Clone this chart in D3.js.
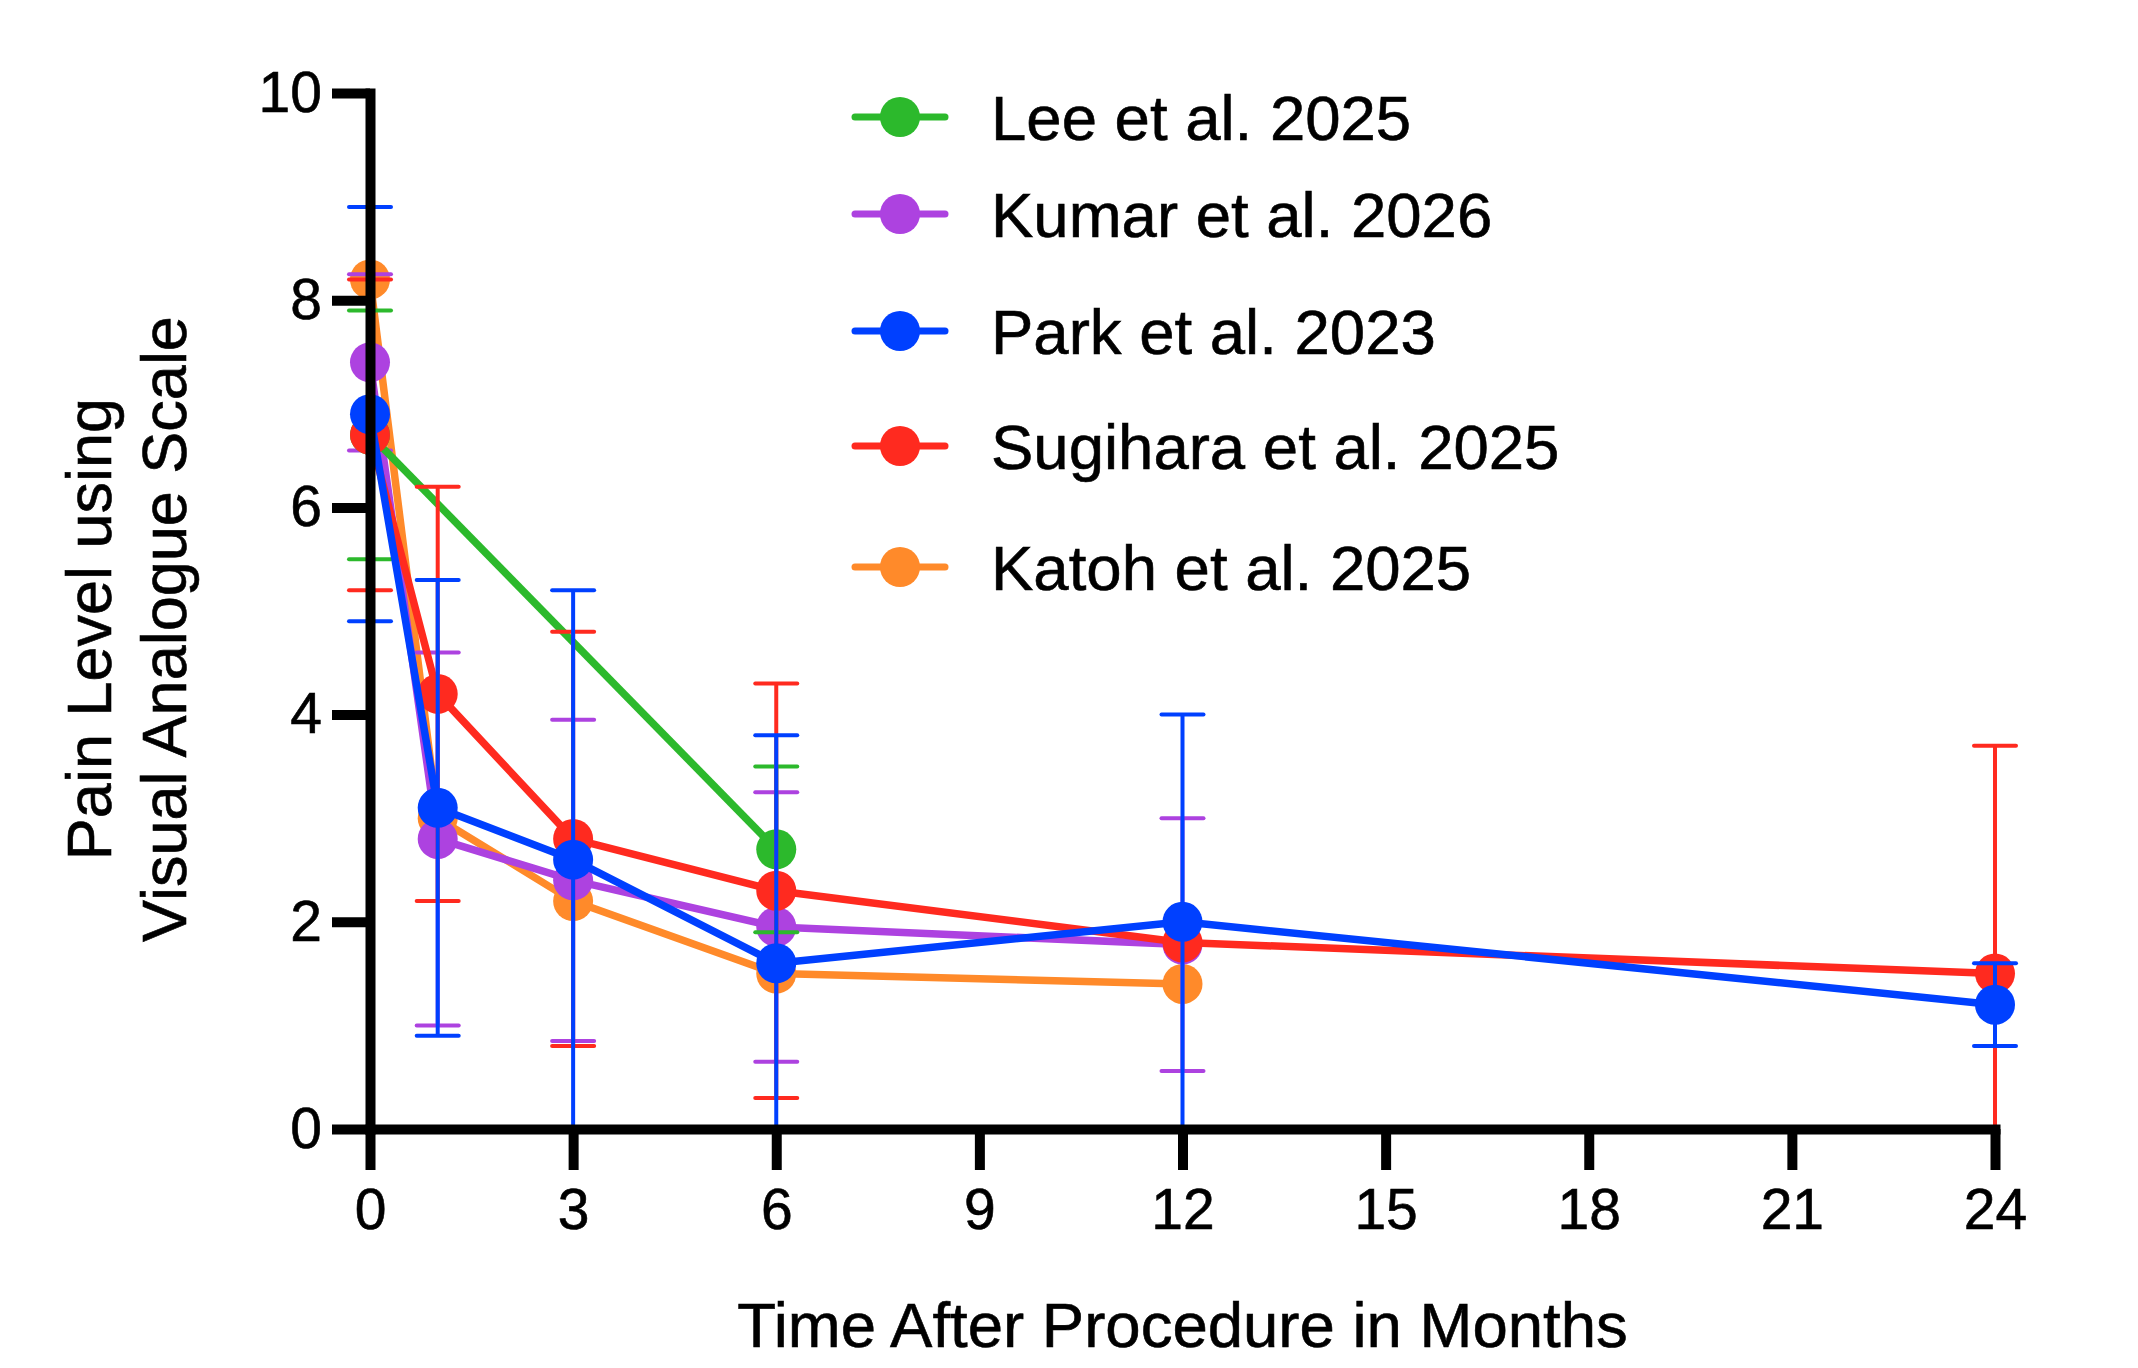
<!DOCTYPE html>
<html>
<head>
<meta charset="utf-8">
<script src="https://cdn.jsdelivr.net/npm/d3@7"></script>
<style>
  body { margin: 0; background: #fff; }
  svg { display: block; font-family: "Liberation Sans", Arial, sans-serif; }
  text { stroke: #000; stroke-width: 0.6px; }
</style>
</head>
<body>
<svg id="chart" width="2138" height="1368"></svg>
<script>
// series, in legend order
const seriesNames = ["Lee et al. 2025", "Kumar et al. 2026", "Park et al. 2023", "Sugihara et al. 2025", "Katoh et al. 2025"]
const seriesColors = ["#2cb92c", "#ad42e0", "#0040ff", "#ff2a1f", "#ff8a2a"]

const leeMonths = [0, 6]
const leeMeans = [6.7, 2.7]
const leeSD = [1.2, 0.8]

const kumarMonths = [0, 1, 3, 6, 12]
const kumarMeans = [7.4, 2.8, 2.4, 1.95, 1.78]
const kumarSD = [0.85, 1.8, 1.55, 1.3, 1.22]

const parkMonths = [0, 1, 3, 6, 12, 24]
const parkMeans = [6.9, 3.1, 2.6, 1.6, 2.0, 1.2]
const parkSD = [2.0, 2.2, 2.6, 2.2, 2.0, 0.4]

const sugiharaMonths = [0, 1, 3, 6, 12, 24]
const sugiharaMeans = [6.7, 4.2, 2.8, 2.3, 1.8, 1.5]
const sugiharaSD = [1.5, 2.0, 2.0, 2.0, null, 2.2]

const katohMonths = [0, 1, 3, 6, 12]
const katohMeans = [8.2, 3.0, 2.2, 1.5, 1.4]
const katohSD = [null, null, null, null, null]

const xTicks = [0, 3, 6, 9, 12, 15, 18, 21, 24]
const yTicks = [0, 2, 4, 6, 8, 10]

// bottom to top, like the original plot stacks them
const drawOrder = [4, 1, 0, 3, 2]

// legend rows are not evenly spaced in the original
const legendRowY = [117, 214, 331, 446, 567]

function makeSeries(months, means, sds) {
    return months.map((m, i) => ({month: m, mean: means[i], sd: sds[i]}))
}

let series = [
    makeSeries(leeMonths, leeMeans, leeSD),
    makeSeries(kumarMonths, kumarMeans, kumarSD),
    makeSeries(parkMonths, parkMeans, parkSD),
    makeSeries(sugiharaMonths, sugiharaMeans, sugiharaSD),
    makeSeries(katohMonths, katohMeans, katohSD),
]

const plotLeft = 370, plotRight = 1995, plotTop = 93, plotBottom = 1129
const font = "Liberation Sans, Arial, sans-serif"
const markerR = 20

let svg = d3.select("svg#chart")
svg.append("rect").attr("width", 2138).attr("height", 1368).attr("fill", "#fff")

let x = d3.scaleLinear().domain([0, 24]).range([plotLeft, plotRight])
let y = d3.scaleLinear().domain([0, 10]).range([plotBottom, plotTop])

// data
let plot = svg.append("g")
for (let idx of drawOrder) {
    let color = seriesColors[idx]
    let data = series[idx]
    let g = plot.append("g")

    let bars = data.filter(d => d.sd !== null)
    g.selectAll("line.bar")
        .data(bars)
        .join("line")
            .attr("x1", d => x(d.month))
            .attr("x2", d => x(d.month))
            .attr("y1", d => y(Math.max(0, d.mean - d.sd)))
            .attr("y2", d => y(d.mean + d.sd))
            .attr("stroke", color)
            .attr("stroke-width", 4)
    let caps = []
    for (let d of bars) {
        caps.push({month: d.month, v: d.mean + d.sd})
        if (d.mean - d.sd >= 0) {
            caps.push({month: d.month, v: d.mean - d.sd})
        }
    }
    g.selectAll("line.cap")
        .data(caps)
        .join("line")
            .attr("x1", d => x(d.month) - 21)
            .attr("x2", d => x(d.month) + 21)
            .attr("y1", d => y(d.v))
            .attr("y2", d => y(d.v))
            .attr("stroke", color)
            .attr("stroke-width", 4)
            .attr("stroke-linecap", "round")

    g.append("path")
        .datum(data)
        .attr("fill", "none")
        .attr("stroke", color)
        .attr("stroke-width", 7.5)
        .attr("stroke-linejoin", "round")
        .attr("d", d3.line().x(d => x(d.month)).y(d => y(d.mean)))

    g.selectAll("circle")
        .data(data)
        .join("circle")
            .attr("cx", d => x(d.month))
            .attr("cy", d => y(d.mean))
            .attr("r", markerR)
            .attr("fill", color)
}

// axes
let yAxis = svg.append("g")
    .attr("transform", `translate(${plotLeft},0)`)
    .call(d3.axisLeft(y).tickValues(yTicks).tickSize(38).tickSizeOuter(0).tickPadding(10))
let xAxis = svg.append("g")
    .attr("transform", `translate(0,${plotBottom})`)
    .call(d3.axisBottom(x).tickValues(xTicks).tickSize(41).tickSizeOuter(0).tickPadding(19))

for (let ax of [xAxis, yAxis]) {
    ax.select(".domain").attr("stroke", "#000").attr("stroke-width", 10).attr("stroke-linecap", "square")
    ax.selectAll(".tick line").attr("stroke", "#000").attr("stroke-width", 10)
    ax.selectAll(".tick text")
        .attr("fill", "#000")
        .style("font-family", font)
        .style("font-size", "57px")
}

// axis titles
svg.append("text")
    .attr("x", (plotLeft + plotRight) / 2)
    .attr("y", 1347)
    .attr("text-anchor", "middle")
    .style("font-size", "63.5px")
    .text("Time After Procedure in Months")

let yTitle = svg.append("text")
    .attr("transform", "translate(0,629) rotate(-90)")
    .attr("text-anchor", "middle")
    .style("font-size", "63px")
yTitle.append("tspan").attr("x", 0).attr("y", 111).text("Pain Level using")
yTitle.append("tspan").attr("x", 0).attr("y", 186).text("Visual Analogue Scale")

// legend
let legend = svg.append("g")
    .selectAll("g")
    .data(seriesNames)
    .join("g")
        .attr("transform", (d, i) => `translate(900,${legendRowY[i]})`)
legend.append("line")
    .attr("x1", -45).attr("x2", 45)
    .attr("stroke", (d, i) => seriesColors[i])
    .attr("stroke-width", 7)
    .attr("stroke-linecap", "round")
legend.append("circle")
    .attr("r", markerR)
    .attr("fill", (d, i) => seriesColors[i])
legend.append("text")
    .attr("x", 91)
    .attr("dy", "0.36em")
    .style("font-size", "63.5px")
    .text(d => d)
</script>
</body>
</html>
